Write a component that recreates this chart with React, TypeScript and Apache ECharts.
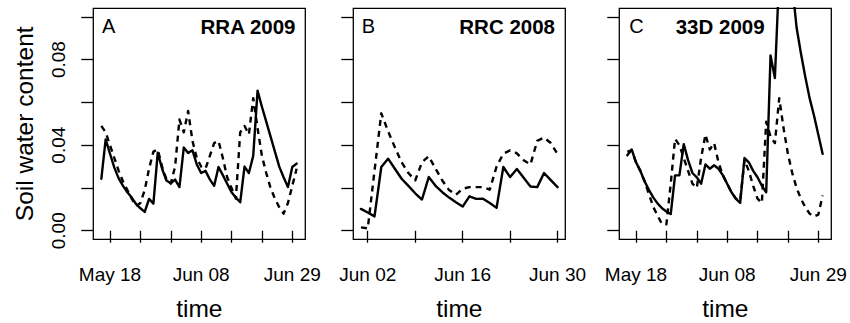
import React, { useEffect, useRef } from "react";
import * as echarts from "echarts";

const DAY = 86400000;
const utc = (s: string) => Date.parse(s + "T00:00:00Z");
const MONTHS = ["Jan", "Feb", "Mar", "Apr", "May", "Jun", "Jul", "Aug", "Sep", "Oct", "Nov", "Dec"];

// daily series; first day of each panel
const startA = "2009-05-16";
const startB = "2008-06-01";
const startC = "2009-05-16";

// Panel A: RRA 2009
const rraSolid = [
  0.0243, 0.0427, 0.036, 0.0295, 0.0245, 0.021, 0.018, 0.0155, 0.0125, 0.0105,
  0.0088, 0.0149, 0.0127, 0.0365, 0.029, 0.0235, 0.0222, 0.0239, 0.0204, 0.0389,
  0.0364, 0.0376, 0.031, 0.027, 0.028, 0.024, 0.021, 0.0298, 0.026, 0.022,
  0.018, 0.0155, 0.0133, 0.03, 0.027, 0.035, 0.0655, 0.058, 0.051, 0.044,
  0.037, 0.03, 0.025, 0.0204, 0.0298, 0.0314,
];
const rraDashed = [
  0.049, 0.046, 0.04, 0.034, 0.028, 0.023, 0.019, 0.015, 0.0115, 0.013,
  0.019, 0.029, 0.037, 0.038, 0.03, 0.024, 0.022, 0.03, 0.052, 0.046,
  0.056, 0.042, 0.034, 0.03, 0.029, 0.035, 0.041, 0.042, 0.034, 0.025,
  0.02, 0.015, 0.046, 0.049, 0.045, 0.062, 0.048, 0.035, 0.027, 0.02,
  0.015, 0.011, 0.008, 0.013, 0.021, 0.029,
];

// Panel B: RRC 2008
const rrcSolid = [
  0.0102, 0.0085, 0.0067, 0.0298, 0.0337, 0.029, 0.0243, 0.021, 0.0175, 0.0146,
  0.0251, 0.021, 0.018, 0.0155, 0.0133, 0.0113, 0.0161, 0.0149, 0.015, 0.013,
  0.0107, 0.0298, 0.0251, 0.0289, 0.0248, 0.0207, 0.0204, 0.027, 0.0237, 0.0204,
];
const rrcDashed = [
  0.0016, 0.0011, 0.028, 0.0549, 0.0465, 0.039, 0.032, 0.027, 0.0235, 0.032,
  0.0348, 0.029, 0.0235, 0.019, 0.0168, 0.0196, 0.0204, 0.0204, 0.0204, 0.0192,
  0.03, 0.036, 0.0376, 0.0362, 0.033, 0.031, 0.042, 0.0436, 0.041, 0.0358,
];

// Panel C: 33D 2009
const d33Solid = [
  0.0353, 0.038, 0.032, 0.028, 0.023, 0.019, 0.0155, 0.0127, 0.0105, 0.009,
  0.0078, 0.0259, 0.0259, 0.0405, 0.033, 0.027, 0.025, 0.022, 0.031, 0.029,
  0.0306, 0.029, 0.026, 0.022, 0.018, 0.015, 0.013, 0.034, 0.032, 0.028,
  0.025, 0.021, 0.018, 0.082, 0.0714, 0.12, 0.16, 0.14, 0.115, 0.095,
  0.083, 0.072, 0.062, 0.054, 0.045, 0.036,
];
const d33Dashed = [
  0.037, 0.0376, 0.032, 0.028, 0.023, 0.017, 0.011, 0.007, 0.003, 0.003,
  0.022, 0.043, 0.04, 0.034, 0.028, 0.022, 0.02, 0.034, 0.045, 0.038,
  0.041, 0.032, 0.026, 0.022, 0.018, 0.015, 0.014, 0.033, 0.028, 0.021,
  0.015, 0.013, 0.051, 0.044, 0.041, 0.062, 0.048, 0.036, 0.027, 0.02,
  0.015, 0.011, 0.008, 0.0066, 0.0075, 0.0165,
];

const ticksAC = ["2009-05-18", "2009-05-25", "2009-06-01", "2009-06-08", "2009-06-15", "2009-06-22", "2009-06-29"];
const labelsAC = ["2009-05-18", "2009-06-08", "2009-06-29"];
const ticksB = ["2008-06-02", "2008-06-09", "2008-06-16", "2008-06-23", "2008-06-30"];
const labelsB = ["2008-06-02", "2008-06-16", "2008-06-30"];
const yTicks = [0, 0.02, 0.04, 0.06, 0.08, 0.1];
const yLabels = [0, 0.04, 0.08];

const panelLetters = ["A", "B", "C"];
const panelTitles = ["RRA 2009", "RRC 2008", "33D 2009"];

const FONT = "'Liberation Sans', Arial, Helvetica, sans-serif";

const toPairs = (start: string, vals: number[]) => vals.map((v, i) => [utc(start) + i * DAY, v]);

const fmtDate = (v: any) => {
  const d = new Date(typeof v === "number" ? v : +v);
  return MONTHS[d.getUTCMonth()] + " " + String(d.getUTCDate()).padStart(2, "0");
};

export default function App() {
  const ref = useRef<HTMLDivElement>(null);
  useEffect(() => {
    if (!ref.current) return;
    const chart = echarts.init(ref.current, undefined, { renderer: "svg" });

    const gridLefts = [93.3, 353.3, 619.3];
    const grids = gridLefts.map((l) => ({
      left: l,
      top: 8.3,
      width: 212,
      height: 231,
      show: true,
      borderColor: "#000",
      borderWidth: 1.3,
      backgroundColor: "transparent",
      containLabel: false,
      outerBoundsMode: "none",
    }));

    const xRanges = [
      [utc("2009-05-18") - 3.85 * DAY, utc("2009-05-18") + 45.0 * DAY],
      [utc("2008-06-02") - 2.13 * DAY, utc("2008-06-02") + 29.14 * DAY],
      [utc("2009-05-18") - 3.85 * DAY, utc("2009-05-18") + 45.0 * DAY],
    ];
    const tickSets = [ticksAC, ticksB, ticksAC];
    const labelSets = [labelsAC, labelsB, labelsAC];

    const xAxes = [0, 1, 2].map((i) => ({
      type: "value",
      gridIndex: i,
      min: xRanges[i][0],
      max: xRanges[i][1],
      axisLine: { show: false },
      splitLine: { show: false },
      axisTick: {
        show: true,
        inside: false,
        length: 12,
        lineStyle: { color: "#000", width: 1.3 },
        customValues: tickSets[i].map(utc),
      },
      axisLabel: {
        show: true,
        customValues: labelSets[i].map(utc),
        formatter: fmtDate,
        fontSize: 19,
        color: "#000",
        fontFamily: FONT,
        margin: 26,
        hideOverlap: false,
      },
      name: "time",
      nameLocation: "middle",
      nameGap: 57,
      nameTextStyle: { fontSize: 24.5, color: "#000", fontFamily: FONT },
    }));

    const yAxes = [0, 1, 2].map((i) => ({
      type: "value",
      gridIndex: i,
      min: -0.004,
      max: 0.104,
      axisLine: { show: false },
      splitLine: { show: false },
      axisTick: {
        show: true,
        inside: false,
        length: 12,
        lineStyle: { color: "#000", width: 1.3 },
        customValues: yTicks,
      },
      axisLabel: {
        show: i === 0,
        customValues: yLabels,
        formatter: (v: number) => Number(v).toFixed(2),
        rotate: 90,
        fontSize: 19,
        color: "#000",
        fontFamily: FONT,
        margin: 25,
      },
      name: i === 0 ? "Soil water content" : "",
      nameLocation: "middle",
      nameRotate: 90,
      nameGap: 56,
      nameTextStyle: { fontSize: 24.5, color: "#000", fontFamily: FONT },
    }));

    const solidSets = [
      toPairs(startA, rraSolid),
      toPairs(startB, rrcSolid),
      toPairs(startC, d33Solid),
    ];
    const dashedSets = [
      toPairs(startA, rraDashed),
      toPairs(startB, rrcDashed),
      toPairs(startC, d33Dashed),
    ];

    const series: any[] = [];
    for (let i = 0; i < 3; i++) {
      series.push({
        type: "line",
        xAxisIndex: i,
        yAxisIndex: i,
        data: solidSets[i],
        symbol: "none",
        clip: true,
        lineStyle: { color: "#000", width: 2.4, type: "solid", join: "round", cap: "round" },
      });
      series.push({
        type: "line",
        xAxisIndex: i,
        yAxisIndex: i,
        data: dashedSets[i],
        symbol: "none",
        clip: true,
        lineStyle: { color: "#000", width: 2.4, type: [6, 5], join: "round", cap: "butt" },
      });
    }

    const letterX = [102, 361.7, 629.3];
    const graphic: any[] = [];
    for (let i = 0; i < 3; i++) {
      graphic.push({
        type: "text",
        x: letterX[i],
        y: 25.5,
        style: {
          text: panelLetters[i],
          fontSize: 20,
          fontFamily: FONT,
          fill: "#000",
          align: "left",
          verticalAlign: "middle",
        },
      });
    }
    graphic.push({
      type: "text",
      x: 295.5,
      y: 26,
      style: { text: panelTitles[0], fontSize: 20.5, fontWeight: "bold", fontFamily: FONT, fill: "#000", align: "right", verticalAlign: "middle" },
    });
    graphic.push({
      type: "text",
      x: 555,
      y: 26,
      style: { text: panelTitles[1], fontSize: 20.5, fontWeight: "bold", fontFamily: FONT, fill: "#000", align: "right", verticalAlign: "middle" },
    });
    graphic.push({
      type: "text",
      x: 675.7,
      y: 26,
      style: { text: panelTitles[2], fontSize: 20.5, fontWeight: "bold", fontFamily: FONT, fill: "#000", align: "left", verticalAlign: "middle" },
    });

    chart.setOption({
      animation: false,
      backgroundColor: "#fff",
      textStyle: { fontFamily: FONT },
      grid: grids,
      xAxis: xAxes,
      yAxis: yAxes,
      series,
      graphic,
    } as any);

    return () => chart.dispose();
  }, []);

  return (
    <div
      ref={ref}
      style={{ position: "absolute", left: 0, top: 0, width: 850, height: 323 }}
    />
  );
}
